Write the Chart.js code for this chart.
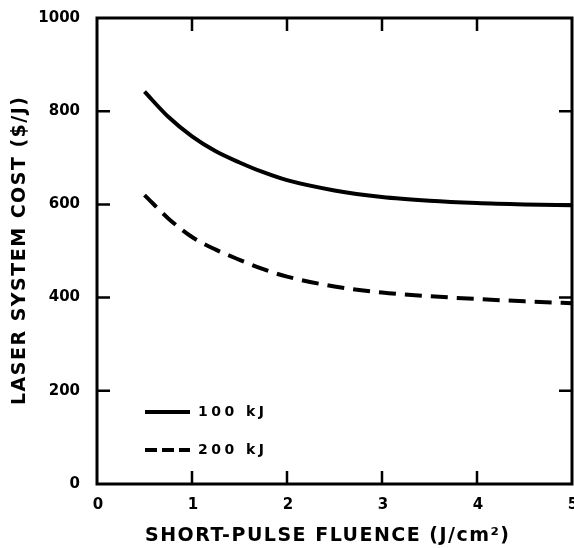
<!DOCTYPE html>
<html>
<head>
<meta charset="utf-8">
<script src="https://cdn.jsdelivr.net/npm/chart.js@4.4.0/dist/chart.umd.min.js"></script>
<style>
  html, body { margin: 0; padding: 0; background: #fff; }
</style>
</head>
<body>
<canvas id="costChart" width="574" height="548"></canvas>
<script>
// data
const fluence = [0.5, 0.75, 1, 1.25, 1.5, 1.75, 2, 2.5, 3, 3.5, 4, 4.5, 5];
const cost100kJ = [842, 788, 746, 714, 690, 669, 652, 630, 616, 608, 603, 600, 598];
const cost200kJ = [620, 570, 530, 503, 481, 461, 445, 424, 411, 403, 397, 392, 388];
const xTicks = [0, 1, 2, 3, 4, 5];
const yTicks = [0, 200, 400, 600, 800, 1000];
const seriesNames = ['100 kJ', '200 kJ'];
const xTitle = 'SHORT-PULSE FLUENCE (J/cm²)';
const yTitle = 'LASER SYSTEM COST ($/J)';

const FONT = "'DejaVu Sans', sans-serif";

// draw text with spacing stretched to a target width
function spacedText(ctx, text, cx, cy, width) {
  ctx.letterSpacing = '0px';
  const w0 = ctx.measureText(text).width;
  const sp = Math.max(0, (width - w0) / (text.length - 1));
  ctx.letterSpacing = sp + 'px';
  ctx.textAlign = 'left';
  ctx.fillText(text, cx - width / 2, cy);
  ctx.letterSpacing = '0px';
}

// box, inward ticks, x labels, axis titles and legend
const framePlugin = {
  id: 'frame',
  afterDatasetsDraw(chart) {
    const { ctx, chartArea: a, scales: { x, y } } = chart;
    ctx.save();
    ctx.strokeStyle = '#000';
    ctx.fillStyle = '#000';
    ctx.lineWidth = 3;
    ctx.setLineDash([]);
    ctx.strokeRect(a.left, a.top, a.right - a.left, a.bottom - a.top);

    const len = 13;
    ctx.lineWidth = 2.5;
    ctx.beginPath();
    xTicks.slice(1, -1).forEach(v => {
      const px = x.getPixelForValue(v);
      ctx.moveTo(px, a.bottom); ctx.lineTo(px, a.bottom - len);
      ctx.moveTo(px, a.top); ctx.lineTo(px, a.top + len);
    });
    yTicks.slice(1, -1).forEach(v => {
      const py = y.getPixelForValue(v);
      ctx.moveTo(a.left, py); ctx.lineTo(a.left + len, py);
      ctx.moveTo(a.right, py); ctx.lineTo(a.right - len, py);
    });
    ctx.stroke();

    // x tick labels (last one runs off the edge like the original)
    ctx.font = 'bold 15px ' + FONT;
    ctx.textAlign = 'center';
    ctx.textBaseline = 'middle';
    xTicks.forEach(v => {
      ctx.fillText(String(v), x.getPixelForValue(v) + 1, a.bottom + 21);
    });

    // axis titles
    ctx.font = 'bold 19px ' + FONT;
    ctx.textBaseline = 'middle';
    spacedText(ctx, xTitle, 327, a.bottom + 52, 364);
    ctx.save();
    ctx.translate(20, (a.top + a.bottom) / 2);
    ctx.rotate(-Math.PI / 2);
    spacedText(ctx, yTitle, 0, 0, 308);
    ctx.restore();

    // legend
    const rows = [412, 450];
    chart.data.datasets.forEach((ds, i) => {
      ctx.lineWidth = 4;
      ctx.setLineDash(ds.borderDash.length ? [12, 5] : []);
      ctx.beginPath();
      ctx.moveTo(145, rows[i]);
      ctx.lineTo(190, rows[i]);
      ctx.stroke();
      ctx.setLineDash([]);
      ctx.font = 'bold 14px ' + FONT;
      ctx.textBaseline = 'middle';
      spacedText(ctx, seriesNames[i], 198 + 33, rows[i], 66);
    });
    ctx.restore();
  }
};

const ctx = document.getElementById('costChart').getContext('2d');

const cfg = {
  type: 'line',
  data: {
    datasets: [
      {
        label: seriesNames[0],
        data: fluence.map((f, i) => ({ x: f, y: cost100kJ[i] })),
        borderColor: '#000',
        borderWidth: 4,
        borderDash: [],
        pointRadius: 0,
        cubicInterpolationMode: 'monotone',
        fill: false
      },
      {
        label: seriesNames[1],
        data: fluence.map((f, i) => ({ x: f, y: cost200kJ[i] })),
        borderColor: '#000',
        borderWidth: 4,
        borderDash: [17, 9],
        pointRadius: 0,
        cubicInterpolationMode: 'monotone',
        fill: false
      }
    ]
  },
  options: {
    responsive: false,
    animation: false,
    layout: { padding: { top: 15, right: 2, left: 0, bottom: 0 } },
    plugins: {
      legend: { display: false },
      tooltip: { enabled: false }
    },
    scales: {
      x: {
        type: 'linear',
        min: 0,
        max: 5,
        afterBuildTicks: s => { s.ticks = xTicks.map(v => ({ value: v })); },
        afterFit: s => { s.height = 64; },
        grid: { display: false },
        border: { display: false },
        ticks: { display: false }
      },
      y: {
        type: 'linear',
        min: 0,
        max: 1000,
        afterBuildTicks: s => { s.ticks = yTicks.map(v => ({ value: v })); },
        afterFit: s => { s.width = 97; },
        grid: { display: false },
        border: { display: false },
        ticks: {
          color: '#000',
          padding: 9,
          font: { family: FONT, weight: 'bold', size: 15 },
          callback: v => String(v)
        }
      }
    }
  },
  plugins: [framePlugin]
};

const costChart = new Chart(ctx, cfg);
</script>
</body>
</html>
